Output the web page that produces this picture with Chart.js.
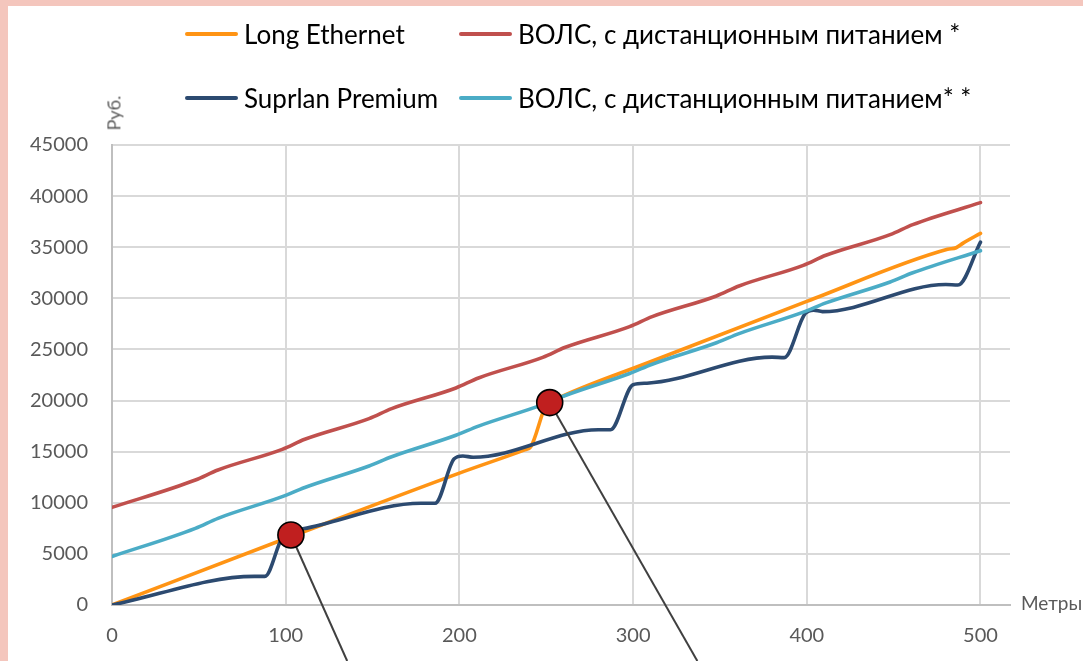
<!DOCTYPE html>
<html>
<head>
<meta charset="utf-8">
<script src="https://cdn.jsdelivr.net/npm/chart.js@4/dist/chart.umd.min.js"></script>
<style>
  html, body { margin:0; padding:0; }
  body { width:1083px; height:661px; background:#F4C6BD; position:relative; overflow:hidden; font-family: Lato, "Noto Sans", sans-serif; }
  #white { position:absolute; left:8px; top:6px; width:1075px; height:655px; background:#fff; }
  #cv { position:absolute; left:0; top:0; }
  .leg { position:absolute; display:flex; align-items:center; font-size:26px; color:#000; white-space:nowrap; }
  .leg .ln { width:53px; height:4px; border-radius:2px; margin-right:6px; }
  .ax { position:absolute; color:#595959; white-space:nowrap; }
</style>
</head>
<body>
<div id="white"></div>
<canvas id="cv" width="1083" height="661"></canvas>
<div id="legend"></div>
<div class="ax" id="ytitle" style="font-size:18px; left:96px; top:102px; transform:rotate(-90deg); transform-origin:center;">Руб.</div>
<div class="ax" id="xtitle" style="font-size:19px; left:1021px; top:591px;">Метры</div>
<script>
// ---- data ----
const seriesNames = ["Long Ethernet", "ВОЛС, с дистанционным питанием *", "Suprlan Premium", "ВОЛС, с дистанционным питанием* *"];

const orangeX = [0, 100, 200, 238, 241, 250, 254, 310, 400, 481, 486, 490, 500];
const orangeY = [0, 6500, 12900, 15200, 15450, 19600, 20000, 23800, 29700, 34800, 34950, 35400, 36360];

const redX = [0, 48, 61, 98, 111, 148, 161, 198, 211, 248, 261, 298, 311, 348, 361, 398, 411, 448, 461, 500];
const redY = [9550, 12230, 13210, 15230, 16210, 18230, 19210, 21230, 22210, 24230, 25210, 27230, 28210, 30230, 31210, 33230, 34210, 36230, 37210, 39360];

const navyX = [0, 82, 88, 98, 103, 110, 178, 186, 197, 202, 208, 280, 287, 300, 308, 380, 387, 399, 404, 409, 480, 487, 500];
const navyY = [0, 2800, 2800, 6600, 7250, 7450, 9950, 9950, 14300, 14580, 14450, 17150, 17150, 21550, 21700, 24250, 24200, 28500, 28850, 28700, 31350, 31300, 35500];

const tealX = [0, 48, 61, 98, 111, 148, 161, 198, 211, 248, 261, 298, 311, 348, 361, 398, 411, 448, 461, 500];
const tealY = [4750, 7500, 8480, 10600, 11500, 13600, 14500, 16600, 17500, 19600, 20500, 22650, 23550, 25650, 26550, 28650, 29550, 31600, 32500, 34660];

const markerX = [103, 252];
const markerY = [6850, 19800];
const calloutEndX = [135.4, 337];
const calloutEndY = [-5480, -5480];

const xTicks = [0, 100, 200, 300, 400, 500];
const yMin = 0, yMax = 45000, yStep = 5000;

const colors = ["#FF9414", "#C0504D", "#2C4A70", "#4BACC6"];

// ---- build ----
function pts(xs, ys) { return xs.map((x, i) => ({x: x, y: ys[i]})); }

const lineBase = { borderWidth: 3.6, pointRadius: 0, pointHoverRadius: 0, fill: false, cubicInterpolationMode: 'monotone', borderCapStyle: 'round', borderJoinStyle: 'round' };

const datasets = [
  Object.assign({ label: seriesNames[0], data: pts(orangeX, orangeY), borderColor: colors[0], order: 5 }, lineBase),
  Object.assign({ label: seriesNames[1], data: pts(redX, redY), borderColor: colors[1], order: 4 }, lineBase),
  Object.assign({ label: seriesNames[2], data: pts(navyX, navyY), borderColor: colors[2], order: 3 }, lineBase),
  Object.assign({ label: seriesNames[3], data: pts(tealX, tealY), borderColor: colors[3], order: 2 }, lineBase),
];
markerX.forEach((mx, i) => {
  datasets.push({
    label: 'callout' + i,
    data: [{x: mx, y: markerY[i]}, {x: calloutEndX[i], y: calloutEndY[i]}],
    borderColor: '#404040', borderWidth: 2, pointRadius: 0, pointHoverRadius: 0,
    fill: false, tension: 0, clip: false, order: 1
  });
});
datasets.push({
  label: 'markers',
  data: pts(markerX, markerY),
  showLine: false,
  pointRadius: 13, pointHoverRadius: 13,
  pointBackgroundColor: '#C01F1F', pointBorderColor: '#000', pointBorderWidth: 1.6,
  clip: false, order: 0
});

const tickFont = { family: 'Lato', size: 20 };

new Chart(document.getElementById('cv'), {
  type: 'line',
  data: { datasets: datasets },
  options: {
    responsive: false,
    animation: false,
    events: [],
    layout: { padding: { top: 145, right: 73, left: 0, bottom: 0 } },
    plugins: { legend: { display: false }, tooltip: { enabled: false } },
    scales: {
      x: {
        type: 'linear', min: 0, max: 517,
        ticks: { stepSize: 100, color: '#595959', font: tickFont, padding: 19, maxRotation: 0, callback: (v) => String(v) },
        afterBuildTicks: (s) => { s.ticks = xTicks.map(v => ({value: v})); },
        afterFit: (s) => { s.height = 56; },
        grid: { color: '#D9D9D9', lineWidth: 2, drawTicks: false },
        border: { display: true, color: '#BFBFBF', width: 2 }
      },
      y: {
        type: 'linear', min: yMin, max: yMax,
        ticks: { stepSize: yStep, color: '#595959', font: tickFont, padding: 24, callback: (v) => String(v) },
        afterFit: (s) => { s.width = 112; },
        grid: { color: '#D9D9D9', lineWidth: 2, drawTicks: false },
        border: { display: true, color: '#BFBFBF', width: 2 }
      }
    }
  }
});

// ---- HTML legend ----
const legendPos = [
  { left: 185, top: 35 }, { left: 459, top: 35 },
  { left: 185, top: 99 }, { left: 459, top: 99 }
];
const legendOrder = [0, 1, 2, 3];
const legendEl = document.getElementById('legend');
legendOrder.forEach((si, k) => {
  const d = document.createElement('div');
  d.className = 'leg';
  d.style.left = legendPos[k].left + 'px';
  d.style.top = (legendPos[k].top - 17) + 'px';
  d.style.height = '32px';
  const ln = document.createElement('span');
  ln.className = 'ln';
  ln.style.background = colors[si];
  const tx = document.createElement('span');
  tx.textContent = seriesNames[si];
  d.appendChild(ln); d.appendChild(tx);
  legendEl.appendChild(d);
});
</script>
</body>
</html>
